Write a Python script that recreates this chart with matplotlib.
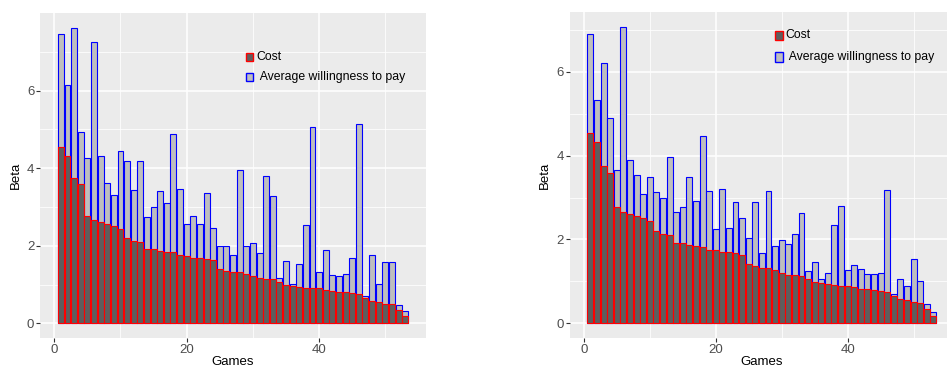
import numpy as np
import matplotlib
matplotlib.use("Agg")
import matplotlib.pyplot as plt
from matplotlib.patches import Rectangle

plt.rcParams['font.family'] = ['Liberation Sans', 'DejaVu Sans']

# ---- data -------------------------------------------------------------
games = np.arange(1, 54)

cost = [4.54, 4.32, 3.75, 3.58, 2.77, 2.66, 2.60, 2.55, 2.52, 2.44,
        2.21, 2.13, 2.10, 1.92, 1.91, 1.87, 1.84, 1.83, 1.75, 1.74,
        1.69, 1.69, 1.67, 1.62, 1.41, 1.36, 1.33, 1.33, 1.27, 1.21,
        1.16, 1.15, 1.13, 1.06, 0.98, 0.96, 0.93, 0.92, 0.90, 0.90,
        0.87, 0.83, 0.81, 0.80, 0.78, 0.75, 0.65, 0.58, 0.56, 0.50,
        0.49, 0.34, 0.18]

wtp_left = [7.47, 6.13, 7.62, 4.92, 4.26, 7.26, 4.31, 3.62, 3.32, 4.45,
            4.19, 3.43, 4.18, 2.74, 3.01, 3.40, 3.11, 4.88, 3.45, 2.56,
            2.77, 2.56, 3.36, 2.46, 2.00, 2.00, 1.75, 3.94, 2.00, 2.06,
            1.82, 3.80, 3.28, 1.16, 1.60, 1.02, 1.52, 2.53, 5.06, 1.31,
            1.88, 1.24, 1.21, 1.26, 1.69, 5.15, 0.70, 1.77, 1.01, 1.59,
            1.59, 0.48, 0.32]

wtp_right = [6.90, 5.34, 6.22, 4.89, 3.66, 7.07, 3.90, 3.55, 3.09, 3.50,
             3.14, 3.00, 3.98, 2.65, 2.77, 3.49, 2.93, 4.47, 3.16, 2.26,
             3.20, 2.27, 2.90, 2.52, 2.03, 2.90, 1.68, 3.16, 1.85, 1.98,
             1.89, 2.14, 2.62, 1.25, 1.46, 1.05, 1.19, 2.34, 2.80, 1.26,
             1.38, 1.29, 1.18, 1.18, 1.19, 3.17, 0.70, 1.05, 0.88, 1.53,
             1.00, 0.45, 0.28]

legend_labels = ["Cost", " Average willingness to pay"]
x_title = "Games"
y_title = "Beta"

# ---- style ------------------------------------------------------------
W, H = 947, 367
PANEL_BG = "#EBEBEB"
COST_FILL, COST_EDGE = "#5E5E5E", "#FF0000"
WTP_FILL, WTP_EDGE = "#BEBEBE", "#0000FF"
BAR_W = 0.9
EDGE_LW = 0.8

fig = plt.figure(figsize=(W / 100, H / 100), dpi=100)


def px_rect(left, top, right, bottom):
    """Pixel box (from top-left) -> figure-fraction rect."""
    return [left / W, 1 - bottom / H, (right - left) / W, (bottom - top) / H]


def expand(lo, hi, f=0.05):
    d = (hi - lo) * f
    return lo - d, hi + d


def draw_panel(box, wtp, legend_boxes):
    left, top, right, bottom = box
    ax = fig.add_axes(px_rect(*box))
    ax.set_facecolor(PANEL_BG)

    ax.bar(games, wtp, width=BAR_W, color=WTP_FILL, edgecolor=WTP_EDGE,
           linewidth=EDGE_LW, zorder=2)
    ax.bar(games, cost, width=BAR_W, color=COST_FILL, edgecolor=COST_EDGE,
           linewidth=EDGE_LW, zorder=3)

    ymax = max(max(wtp), max(cost))
    ax.set_xlim(*expand(games[0] - BAR_W / 2, games[-1] + BAR_W / 2))
    ax.set_ylim(*expand(0, ymax))

    # breaks only within the data range
    ax.set_xticks(np.arange(0, games[-1] + 1, 20))
    ax.set_xticks(np.arange(10, games[-1] + 1, 20), minor=True)
    ax.set_yticks(np.arange(0, ymax + 1e-9, 2))
    ax.set_yticks(np.arange(1, ymax + 1e-9, 2), minor=True)
    ax.set_axisbelow(True)
    ax.grid(which='major', color='white', linewidth=1.1)
    ax.grid(which='minor', color='white', linewidth=0.55)
    for s in ax.spines.values():
        s.set_visible(False)
    ax.tick_params(which='major', length=2.6, width=0.8, color='#333333',
                   labelcolor='#4D4D4D', labelsize=9.5, pad=1.8)
    ax.tick_params(which='minor', length=0)

    h_px = bottom - top
    w_px = right - left
    ax.set_xlabel(x_title, fontsize=9.5, va='center')
    ax.xaxis.set_label_coords(0.5, -23.6 / h_px)
    ax.set_ylabel(y_title, fontsize=9.5, va='center')
    ax.yaxis.set_label_coords(-24.7 / w_px, 0.5)

    # legend keys and labels, placed inside the panel
    fills = [(COST_FILL, COST_EDGE), (WTP_FILL, WTP_EDGE)]
    for (kx0, ky0, kx1, ky1, tx), (fc, ec), lab in zip(legend_boxes, fills,
                                                         legend_labels):
        fig.add_artist(Rectangle((kx0 / W, 1 - ky1 / H), (kx1 - kx0) / W,
                                 (ky1 - ky0) / H, transform=fig.transFigure,
                                 facecolor=fc, edgecolor=ec, linewidth=1.0,
                                 zorder=5))
        fig.text(tx / W, 1 - (ky0 + ky1) / 2 / H, lab, fontsize=8.8,
                 va='center', ha='left', color='black')
    return ax


# left panel
draw_panel((40.4, 12.9, 425.7, 338.1), wtp_left,
           [(246.0, 52.5, 252.5, 61.0, 256.7),
            (246.0, 72.5, 252.5, 81.0, 256.7)])

# right panel (extends past the right edge of the canvas)
draw_panel((570.0, 12.2, 953.8, 338.1), wtp_right,
           [(775.3, 31.0, 782.5, 40.0, 785.7),
            (775.3, 52.5, 782.5, 61.5, 785.7)])

fig.savefig("out.png", dpi=100)
